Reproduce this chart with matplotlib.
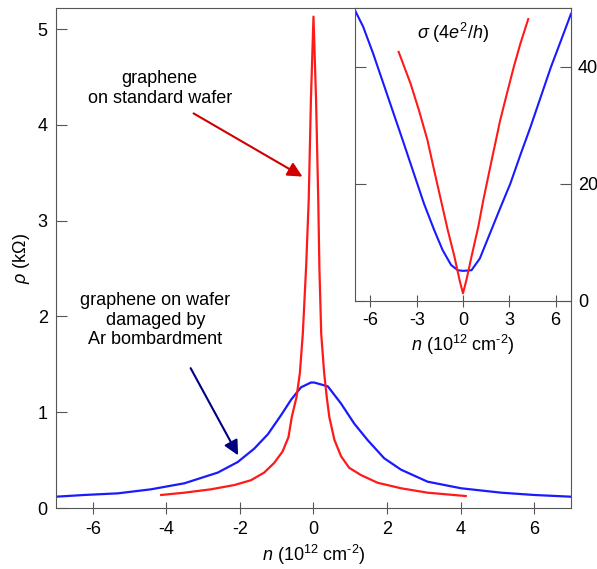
import numpy as np
import matplotlib
matplotlib.use("Agg")
import matplotlib.pyplot as plt

# resistivity vs carrier density
n_red = [-4.14, -3.51, -2.79, -2.15, -1.70, -1.34, -1.07, -0.84, -0.68, -0.59,
         -0.46, -0.37, -0.29, -0.20, -0.13, -0.07, 0.0, 0.07, 0.13, 0.16,
         0.21, 0.29, 0.36, 0.43, 0.57, 0.75, 0.97, 1.29, 1.74, 2.38, 3.10, 4.14]
rho_red = [0.136, 0.16, 0.195, 0.24, 0.29, 0.37, 0.47, 0.59, 0.74, 0.95,
           1.16, 1.41, 1.82, 2.52, 3.21, 4.26, 5.13, 4.26, 3.21, 2.52,
           1.82, 1.41, 1.16, 0.95, 0.71, 0.54, 0.42, 0.344, 0.264, 0.206, 0.16, 0.125]

n_blue = [-7.0, -6.23, -5.32, -4.42, -3.51, -2.60, -2.06, -1.61, -1.24, -0.88,
          -0.61, -0.34, -0.07, 0.02, 0.39, 0.75, 1.11, 1.47, 1.92, 2.38,
          3.10, 4.01, 5.10, 6.0, 7.0]
rho_blue = [0.118, 0.136, 0.153, 0.195, 0.258, 0.37, 0.48, 0.62, 0.77, 0.97,
            1.13, 1.26, 1.31, 1.31, 1.27, 1.09, 0.88, 0.71, 0.52, 0.40,
            0.275, 0.206, 0.16, 0.136, 0.118]

# inset: conductivity in units of 4e^2/h
n_red_in = [-4.17, -3.40, -2.85, -2.30, -1.87, -1.43, -0.99, -0.55, -0.22, 0.0,
            0.22, 0.55, 0.99, 1.32, 1.86, 2.41, 2.85, 3.29, 3.72, 4.23]
sig_red_in = [42.5, 37.1, 32.5, 27.4, 22.3, 17.2, 12.1, 7.5, 3.5, 1.26,
              3.5, 7.5, 12.6, 17.2, 24.0, 30.8, 35.4, 39.9, 43.9, 48.1]

n_blue_in = [-7.0, -6.47, -5.82, -5.16, -4.5, -3.84, -3.18, -2.53, -1.87, -1.32,
             -0.77, -0.33, 0.0, 0.55, 1.09, 1.75, 2.41, 3.07, 3.72, 4.38,
             5.04, 5.70, 6.36, 7.0]
sig_blue_in = [49.6, 46.8, 42.2, 37.1, 32.0, 26.9, 21.7, 16.6, 12.1, 8.65,
               6.1, 5.2, 5.1, 5.2, 7.2, 11.5, 15.8, 20.0, 24.9, 29.7,
               34.8, 39.9, 44.5, 49.0]

plt.rcParams["font.family"] = ["Liberation Sans", "DejaVu Sans"]
plt.rcParams["mathtext.fontset"] = "custom"
plt.rcParams["mathtext.rm"] = "Liberation Sans"
plt.rcParams["mathtext.it"] = "Liberation Sans:italic"
plt.rcParams["axes.unicode_minus"] = False

spine_col = "#555555"
red = "#ff1a1a"
blue = "#1a1aff"
fs = 13
n_label = "$n$ (10$^{12}$ cm$^{\\text{-}2}$)"

fig = plt.figure(figsize=(5.97, 5.69), dpi=100)
ax = fig.add_axes([0.0938, 0.1072, 0.8626, 0.8787])

ax.plot(n_blue, rho_blue, color=blue, lw=1.6)
ax.plot(n_red, rho_red, color=red, lw=1.6)

ax.set_xlim(-7, 7)
ax.set_ylim(0, 5.22)
ax.set_xticks(np.arange(-6, 7, 2))
ax.set_yticks(np.arange(0, 6, 1))
for s in ax.spines.values():
    s.set_color(spine_col)
ax.tick_params(axis="x", direction="inout", length=8, color=spine_col,
               labelsize=fs, pad=5)
ax.tick_params(axis="y", direction="in", length=8, color=spine_col,
               labelsize=fs, pad=6)
ax.set_xlabel(n_label, fontsize=fs, labelpad=4)
ax.set_ylabel(r"$\rho$ (k$\Omega$)", fontsize=fs, labelpad=4)

# annotations
ax.text(-4.18, 4.38, "graphene\non standard wafer", fontsize=fs,
        ha="center", va="center", linespacing=1.25)
ax.annotate("", xy=(-0.30, 3.46), xytext=(-3.26, 4.12),
            arrowprops=dict(arrowstyle="-|>", color="#d00000", lw=1.5,
                            mutation_scale=22, shrinkA=0, shrinkB=0))

ax.text(-4.3, 1.96, "graphene on wafer\ndamaged by\nAr bombardment", fontsize=fs,
        ha="center", va="center", linespacing=1.2)
ax.annotate("", xy=(-2.05, 0.55), xytext=(-3.34, 1.46),
            arrowprops=dict(arrowstyle="-|>", color="#000080", lw=1.5,
                            mutation_scale=22, shrinkA=0, shrinkB=0))

# inset
ins = fig.add_axes([0.5946, 0.4715, 0.3618, 0.5145])
ins.plot(n_blue_in, sig_blue_in, color=blue, lw=1.5)
ins.plot(n_red_in, sig_red_in, color=red, lw=1.5)
ins.set_xlim(-7, 7)
ins.set_ylim(0, 50)
ins.set_xticks([-6, -3, 0, 3, 6])
ins.set_yticks([0, 20, 40])
for s in ins.spines.values():
    s.set_color(spine_col)
ins.yaxis.tick_right()
ins.tick_params(axis="y", which="both", left=True, right=True,
                direction="in", length=8, color=spine_col, labelsize=fs, pad=5)
ins.tick_params(axis="x", direction="inout", length=8, color=spine_col,
                labelsize=fs, pad=4)
ins.set_xlabel(n_label, fontsize=fs, labelpad=3)
ins.text(-0.64, 45.7, r"$\sigma$ (4$e^2$/$h$)", fontsize=fs,
         ha="center", va="center")

fig.savefig("out.png", dpi=100)
